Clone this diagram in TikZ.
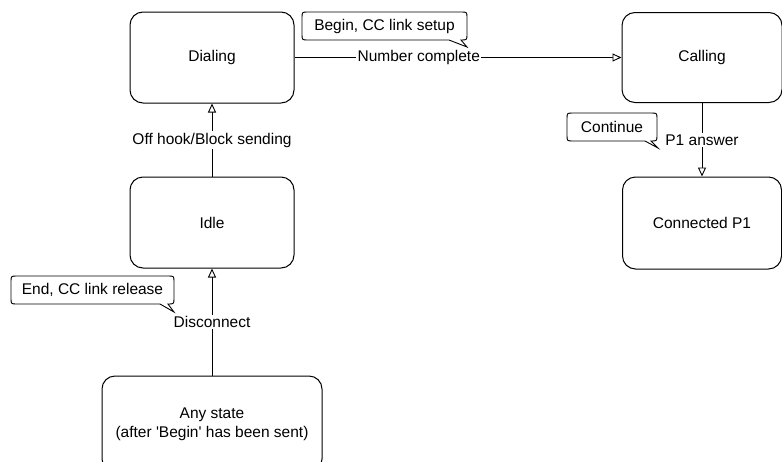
\documentclass[tikz,border=0pt]{standalone}
\usepackage{fontspec}
\setmainfont{Liberation Sans}
\usetikzlibrary{arrows.meta}

% Speech-bubble outline: box (x1,y1)-(x2,y2), tail from base x on the
% bottom edge to the tip (tx,ty); y grows downwards.
\newcommand\calloutoutline[7]{%
  \draw[line width=0.9pt]
    (#5,#4) -- ({#1+6},#4) .. controls (#1,#4) .. (#1,{#4-6})
    -- (#1,{#2+6}) .. controls (#1,#2) .. ({#1+6},#2)
    -- ({#3-6},#2) .. controls (#3,#2) .. (#3,{#2+6})
    -- (#3,{#4-6}) .. controls (#3,#4) .. ({#3-6},#4)
    -- (#6,#7) -- cycle;}

\begin{document}
\begin{tikzpicture}[x=1pt,y=-1pt,
  font=\fontsize{15.5}{19}\selectfont,
  state/.style={draw, rounded corners=13pt, line width=1pt, align=center, inner sep=0pt},
  trans/.style={draw, line width=0.9pt, -{Triangle[open, length=9pt, width=8pt, fill=white]}},
  tlabel/.style={fill=white, inner sep=1.5pt},
  note/.style={inner sep=0pt}]
\useasboundingbox (0,0) rectangle (782,461);
\clip (0,0) rectangle (782,461);

% states
\node[state, minimum width=164pt, minimum height=91pt] (dial) at (212,57.5) {Dialing};
\node[state, minimum width=160pt, minimum height=90pt] (call) at (702,57.5) {Calling};
\node[state, minimum width=164pt, minimum height=91pt] (idle) at (212,222.5) {Idle};
\node[state, minimum width=159pt, minimum height=92pt] (conn) at (702,223) {Connected P1};
\node[state, minimum width=220pt, minimum height=96pt] (any) at (212,424)
  {Any state\\(after \textquotesingle Begin\textquotesingle\ has been sent)};

% transitions
\draw[trans] (dial) -- node[tlabel, pos=0.38] (lnum) {Number complete} (call);
\draw[trans] (idle) -- node[tlabel] (loff) {Off hook/Block sending} (dial);
\draw[trans] (any) -- node[tlabel] (ldis) {Disconnect} (idle);
\draw[trans] (call) -- node[tlabel] (lans) {P1 answer} (conn);

% signals sent on the transitions
\node[note] (nbegin) at (384.5,26) {Begin, CC link setup};
\calloutoutline{302}{12}{467}{40}{449}{467}{47}
\node[note] (nend) at (92.5,290) {End, CC link release};
\calloutoutline{11}{276}{174}{304}{160}{174}{312}
\node[note] (ncont) at (612,127) {Continue};
\calloutoutline{567}{113}{657}{141}{645}{658}{148}
\end{tikzpicture}
\end{document}
